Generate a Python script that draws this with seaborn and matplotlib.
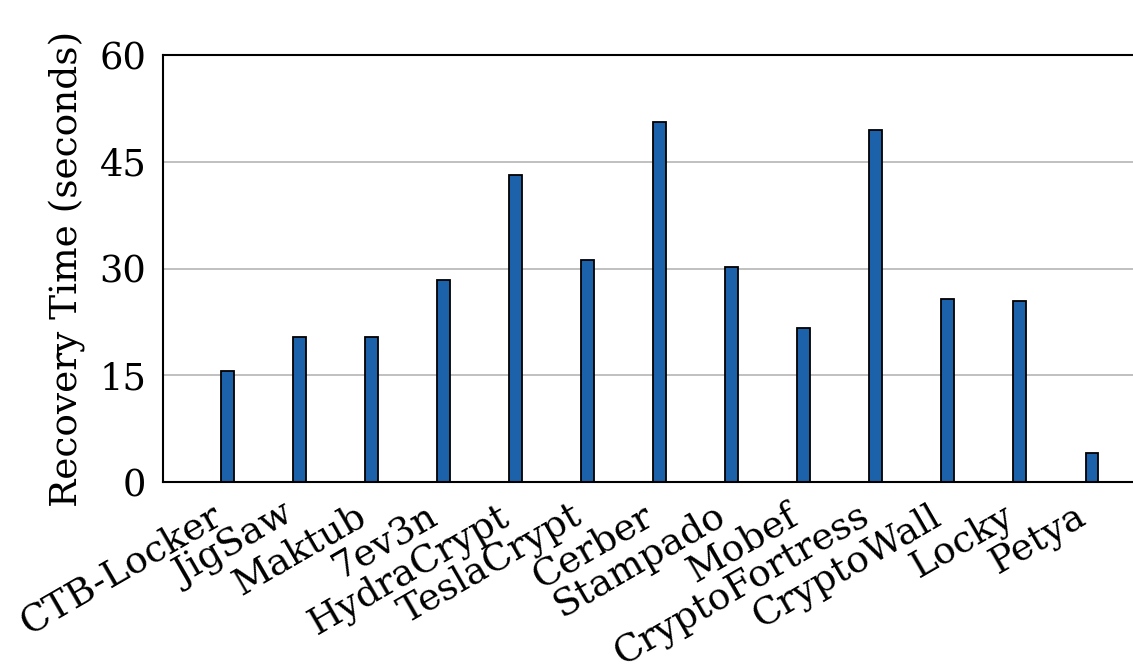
import pandas as pd
import matplotlib
matplotlib.use("Agg")
import matplotlib.pyplot as plt
import seaborn as sns

families = ["CTB-Locker", "JigSaw", "Maktub", "7ev3n", "HydraCrypt", "TeslaCrypt",
            "Cerber", "Stampado", "Mobef", "CryptoFortress", "CryptoWall", "Locky", "Petya"]
recovery_time = [15.6, 20.4, 20.4, 28.4, 43.2, 31.2, 50.6, 30.3, 21.7, 49.5, 25.8, 25.4, 4.1]
y_ticks = [0, 15, 30, 45, 60]

df = pd.DataFrame({"family": families, "time": recovery_time})

sns.set_style("white")
plt.rcParams["font.family"] = ["DejaVu Serif"]
plt.rcParams["text.color"] = "black"
plt.rcParams["axes.labelcolor"] = "black"
plt.rcParams["xtick.color"] = "black"
plt.rcParams["ytick.color"] = "black"

fig = plt.figure(figsize=(11.33, 6.65), dpi=100)
ax = fig.add_axes([0.144, 0.275, 0.87, 0.642])

sns.barplot(data=df, x="family", y="time", color="#1c62aa", saturation=1,
            width=0.18, edgecolor="black", linewidth=1.3, ax=ax)

ax.set_ylim(0, 60)
ax.set_yticks(y_ticks)
ax.set_xlim(-0.9, 12.79)
ax.yaxis.grid(True, color="#b5b5b5", linewidth=1.2)
ax.set_axisbelow(True)
for s in ax.spines.values():
    s.set_color("black")
    s.set_linewidth(1.5)

ax.set_xlabel("")
ax.set_ylabel("Recovery Time (seconds)", fontsize=27, labelpad=10)
ax.tick_params(axis="y", labelsize=26.5, length=0, pad=12)
ax.tick_params(axis="x", labelsize=27, length=0, pad=11)
plt.setp(ax.get_xticklabels(), rotation=30, ha="right")

fig.savefig("out.png", dpi=100)
